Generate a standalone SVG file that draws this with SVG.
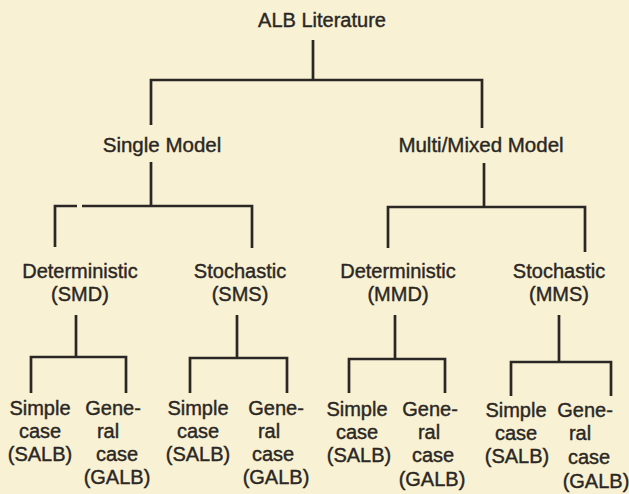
<svg xmlns="http://www.w3.org/2000/svg" width="629" height="494" viewBox="0 0 629 494">
  <style>
    .bg { fill: #f8f1d3; }
    .link { fill: none; stroke: #2b2724; stroke-width: 2.7; stroke-linecap: butt; stroke-linejoin: miter; }
    text { font-family: "Liberation Sans", Arial, sans-serif; font-size: 20px; fill: #2b2724; stroke: #2b2724; stroke-width: 0.4; text-anchor: middle; }
    .l1 { font-size: 20.5px; }
  </style>
  <rect class="bg" x="0" y="0" width="629" height="494"/>

  <!-- tree connectors -->
  <g id="connectors">
    <path class="link" d="M313,40 V80 M151,125 V80 H482 V128"/>
    <path class="link" d="M151,162 V206 M55,247 V206 H77 M82,206 H252 V248"/>
    <path class="link" d="M484,163 V207 M388,248 V207 H585 V252"/>
    <path class="link" d="M76,315 V357 M31,393 V357 H126 V393"/>
    <path class="link" d="M237,315 V358 M190,393 V358 H287 V393"/>
    <path class="link" d="M395,315 V359 M349,393 V359 H445 V393"/>
    <path class="link" d="M559,315 V362 M511,396 V362 H611 V396"/>
  </g>

  <!-- level 0 -->
  <g id="alb-literature"><text x="322" y="27">ALB Literature</text></g>

  <!-- level 1 -->
  <g id="single-model"><text class="l1" x="162" y="152">Single Model</text></g>
  <g id="multi-mixed-model"><text class="l1" x="481" y="152">Multi/Mixed Model</text></g>

  <!-- level 2 -->
  <g id="smd"><text x="80" y="278">Deterministic</text><text x="80" y="301">(SMD)</text></g>
  <g id="sms"><text x="240" y="278">Stochastic</text><text x="240" y="301">(SMS)</text></g>
  <g id="mmd"><text x="398" y="278">Deterministic</text><text x="398" y="301">(MMD)</text></g>
  <g id="mms"><text x="559" y="278">Stochastic</text><text x="559" y="301">(MMS)</text></g>

  <!-- level 3: SMD -->
  <g id="smd-salb"><text x="40" y="415">Simple</text><text x="40" y="438">case</text><text x="40" y="461">(SALB)</text></g>
  <g id="smd-galb"><text x="113" y="415">Gene-</text><text x="108" y="438">ral</text><text x="117" y="461">case</text><text x="117" y="484">(GALB)</text></g>

  <!-- level 3: SMS -->
  <g id="sms-salb"><text x="198" y="415">Simple</text><text x="198" y="438">case</text><text x="198" y="461">(SALB)</text></g>
  <g id="sms-galb"><text x="276" y="415">Gene-</text><text x="269" y="438">ral</text><text x="273" y="461">case</text><text x="276" y="484">(GALB)</text></g>

  <!-- level 3: MMD -->
  <g id="mmd-salb"><text x="357" y="416">Simple</text><text x="357" y="439">case</text><text x="359" y="462">(SALB)</text></g>
  <g id="mmd-galb"><text x="430" y="416">Gene-</text><text x="429" y="439">ral</text><text x="433" y="462">case</text><text x="432" y="486">(GALB)</text></g>

  <!-- level 3: MMS -->
  <g id="mms-salb"><text x="516" y="417">Simple</text><text x="516" y="440">case</text><text x="517" y="463">(SALB)</text></g>
  <g id="mms-galb"><text x="585" y="417">Gene-</text><text x="580" y="440">ral</text><text x="589" y="464">case</text><text x="596" y="488">(GALB)</text></g>
</svg>
